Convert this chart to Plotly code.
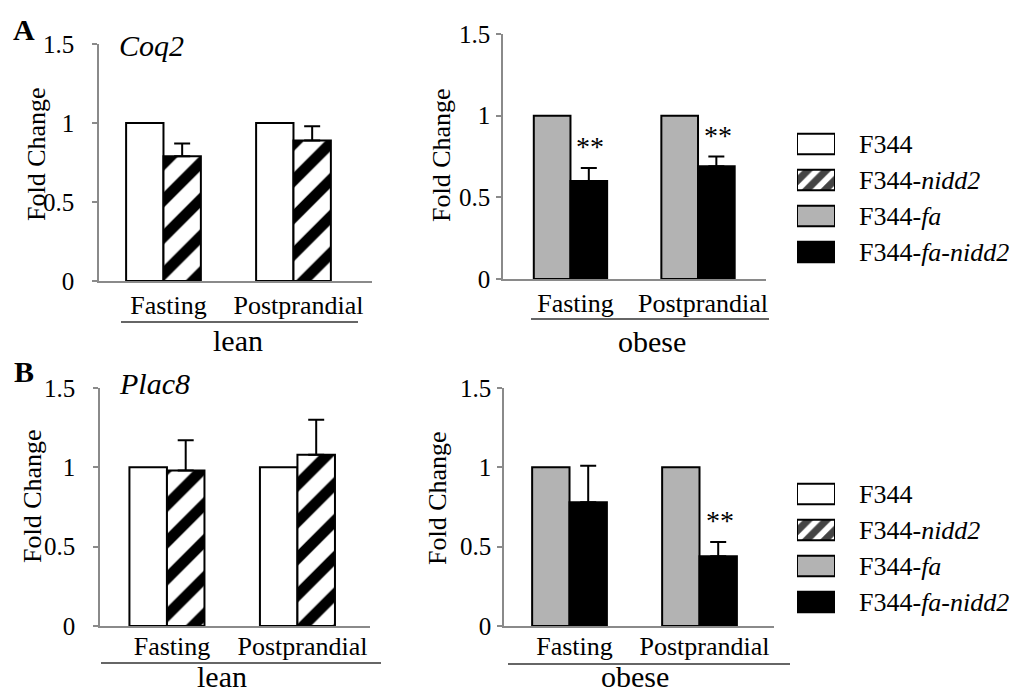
import plotly.graph_objects as go

# ---- data ----
conditions = ["Fasting", "Postprandial"]
strains = ["F344", "F344-nidd2", "F344-fa", "F344-fa-nidd2"]
strain_labels = ["F344", "F344-<i>nidd2</i>", "F344-<i>fa</i>", "F344-<i>fa-nidd2</i>"]

coq2_f344 = [1.0, 1.0]
coq2_nidd2 = [0.79, 0.89]
coq2_nidd2_err = [0.08, 0.09]
coq2_fa = [1.0, 1.0]
coq2_fa_nidd2 = [0.60, 0.69]
coq2_fa_nidd2_err = [0.08, 0.06]
coq2_sig = ["**", "**"]

plac8_f344 = [1.0, 1.0]
plac8_nidd2 = [0.98, 1.08]
plac8_nidd2_err = [0.19, 0.22]
plac8_fa = [1.0, 1.0]
plac8_fa_nidd2 = [0.78, 0.44]
plac8_fa_nidd2_err = [0.23, 0.09]
plac8_sig = ["", "**"]

y_ticks = [0, 0.5, 1, 1.5]

# ---- styling ----
W, H = 1015, 695
FONT = "Liberation Serif"
GRAY_FILL = "#b3b3b3"
AXIS_GRAY = "#8a8a8a"
HATCH = dict(shape="/", fgcolor="black", bgcolor="white", fgopacity=1,
             size=26, solidity=0.42)

def xd(a, b):
    return [a / W, b / W]

def yd(top, bottom):
    return [1 - bottom / H, 1 - top / H]

fig = go.Figure()

def add_pair(ax, ref_vals, test_vals, test_err, ref_style, test_style, ref_name, test_name):
    xa, ya = ("x" + ax, "y" + ax)
    fig.add_trace(go.Bar(
        x=conditions, y=ref_vals, name=ref_name, xaxis=xa, yaxis=ya,
        offsetgroup="ref", showlegend=False, **ref_style))
    fig.add_trace(go.Bar(
        x=conditions, y=test_vals, name=test_name, xaxis=xa, yaxis=ya,
        offsetgroup="test", showlegend=False,
        error_y=dict(type="data", array=test_err, arrayminus=[0] * len(test_err),
                     symmetric=False, color="black", thickness=2, width=8),
        **test_style))

white_style = dict(marker=dict(color="white", line=dict(color="black", width=2)))
hatch_style = dict(marker=dict(color="white", pattern=HATCH, line=dict(color="black", width=2)))
gray_style = dict(marker=dict(color=GRAY_FILL, line=dict(color="black", width=2)))
black_style = dict(marker=dict(color="black", line=dict(color="black", width=2)))

add_pair("", coq2_f344, coq2_nidd2, coq2_nidd2_err, white_style, hatch_style, strains[0], strains[1])
add_pair("2", coq2_fa, coq2_fa_nidd2, coq2_fa_nidd2_err, gray_style, black_style, strains[2], strains[3])
add_pair("3", plac8_f344, plac8_nidd2, plac8_nidd2_err, white_style, hatch_style, strains[0], strains[1])
add_pair("4", plac8_fa, plac8_fa_nidd2, plac8_fa_nidd2_err, gray_style, black_style, strains[2], strains[3])

# key swatches, drawn as short horizontal bars beside each row
key_rows = list(range(len(strains)))
for ax in ("5", "6"):
    fig.add_trace(go.Bar(
        y=key_rows, x=[1] * len(strains), orientation="h",
        xaxis="x" + ax, yaxis="y" + ax, showlegend=False, hoverinfo="skip",
        marker=dict(
            color=["white", "white", GRAY_FILL, "black"],
            line=dict(color="black", width=2),
            pattern=dict(shape=["", "/", "", ""], fgcolor="black", bgcolor="white",
                         fgopacity=1, size=13, solidity=0.55),
        ),
    ))

layout = dict(
    width=W, height=H, margin=dict(l=0, r=0, t=0, b=0, pad=0, autoexpand=False),
    paper_bgcolor="white", plot_bgcolor="white",
    barmode="group", bargap=0.425, bargroupgap=0,
    font=dict(family=FONT, color="black", size=25),
    showlegend=False,
)

# (suffix, x pixel span, y pixel span (top, bottom), x range,
#  y tick-label standoff, x tick-label standoff)
panels = [
    ("", (99, 372), (44, 281), [-0.496, 1.604], 13, 0),
    ("2", (503, 766), (34, 279), [-0.529, 1.533], 1, 0),
    ("3", (100, 370), (388, 626), [-0.513, 1.556], 13, -4),
    ("4", (504, 774), (388, 626), [-0.504, 1.573], 1, -4),
]
for sfx, (x0, x1), (t, b), xr, ystand, xstand in panels:
    layout["xaxis" + sfx] = dict(
        domain=xd(x0, x1), anchor="y" + sfx, type="category", range=xr,
        showline=True, linecolor=AXIS_GRAY, linewidth=1.5, ticks="",
        showgrid=False, zeroline=False, fixedrange=True, automargin=False,
        tickfont=dict(family=FONT, size=26), ticklabelshift=5,
        ticklabelstandoff=xstand,
    )
    layout["yaxis" + sfx] = dict(
        domain=yd(t, b), anchor="x" + sfx, range=[0, 1.5],
        tickvals=y_ticks, ticktext=[f"{v:g}" for v in y_ticks],
        showline=True, linecolor=AXIS_GRAY, linewidth=1.5,
        ticks="outside", ticklen=5, tickcolor=AXIS_GRAY, tickwidth=1.5,
        showgrid=False, zeroline=False, fixedrange=True, automargin=False,
        tickfont=dict(family=FONT, size=25), ticklabelstandoff=ystand,
    )

for sfx, (t, b) in (("5", (126, 270)), ("6", (476, 620))):
    layout["xaxis" + sfx] = dict(domain=xd(797, 835), anchor="y" + sfx, range=[0, 1],
                                 visible=False, fixedrange=True, automargin=False)
    layout["yaxis" + sfx] = dict(
        domain=yd(t, b), anchor="x" + sfx, range=[3.5, -0.5], side="right",
        tickvals=key_rows, ticktext=strain_labels, ticks="", showline=False,
        showgrid=False, zeroline=False, fixedrange=True, automargin=False,
        tickfont=dict(family=FONT, size=26), ticklabelstandoff=23,
    )

fig.update_layout(**layout)

annotations = []
# significance marks above the error bars
for sfx, vals, errs, sig in (("2", coq2_fa_nidd2, coq2_fa_nidd2_err, coq2_sig),
                             ("4", plac8_fa_nidd2, plac8_fa_nidd2_err, plac8_sig)):
    for cond, v, e, s in zip(conditions, vals, errs, sig):
        if s:
            annotations.append(dict(
                x=cond, y=v + e, xref="x" + sfx, yref="y" + sfx, text=s,
                showarrow=False, yanchor="bottom", xshift=20, yshift=4,
                font=dict(family=FONT, size=28)))

def paper_text(text, px, py, size, angle=0, yanchor="middle"):
    annotations.append(dict(
        x=px / W, y=1 - py / H, xref="paper", yref="paper", text=text,
        showarrow=False, textangle=angle, xanchor="center", yanchor=yanchor,
        font=dict(family=FONT, size=size)))

# y-axis titles
for px, py in ((36, 154), (442, 155), (32, 496), (437, 498)):
    paper_text("Fold Change", px, py, 26, angle=-90)

# panel letters and gene names
paper_text("<b>A</b>", 24, 30, 30)
paper_text("<b>B</b>", 24, 371, 30)
paper_text("<i>Coq2</i>", 151, 45, 30)
paper_text("<i>Plac8</i>", 154, 383, 30)

# group labels below the condition labels
paper_text("lean", 238, 340, 30)
paper_text("obese", 652, 341, 30)
paper_text("lean", 222, H, 30, yanchor="bottom")
paper_text("obese", 635, H, 30, yanchor="bottom")

fig.update_layout(annotations=annotations)

shapes = []
for x0, x1, y in ((121, 358, 322), (531, 769, 319), (101, 381, 663), (508, 790, 664)):
    shapes.append(dict(type="line", xref="paper", yref="paper",
                       x0=x0 / W, x1=x1 / W, y0=1 - y / H, y1=1 - y / H,
                       line=dict(color="#333333", width=1.3)))
fig.update_layout(shapes=shapes)

fig.write_html("out.html")
